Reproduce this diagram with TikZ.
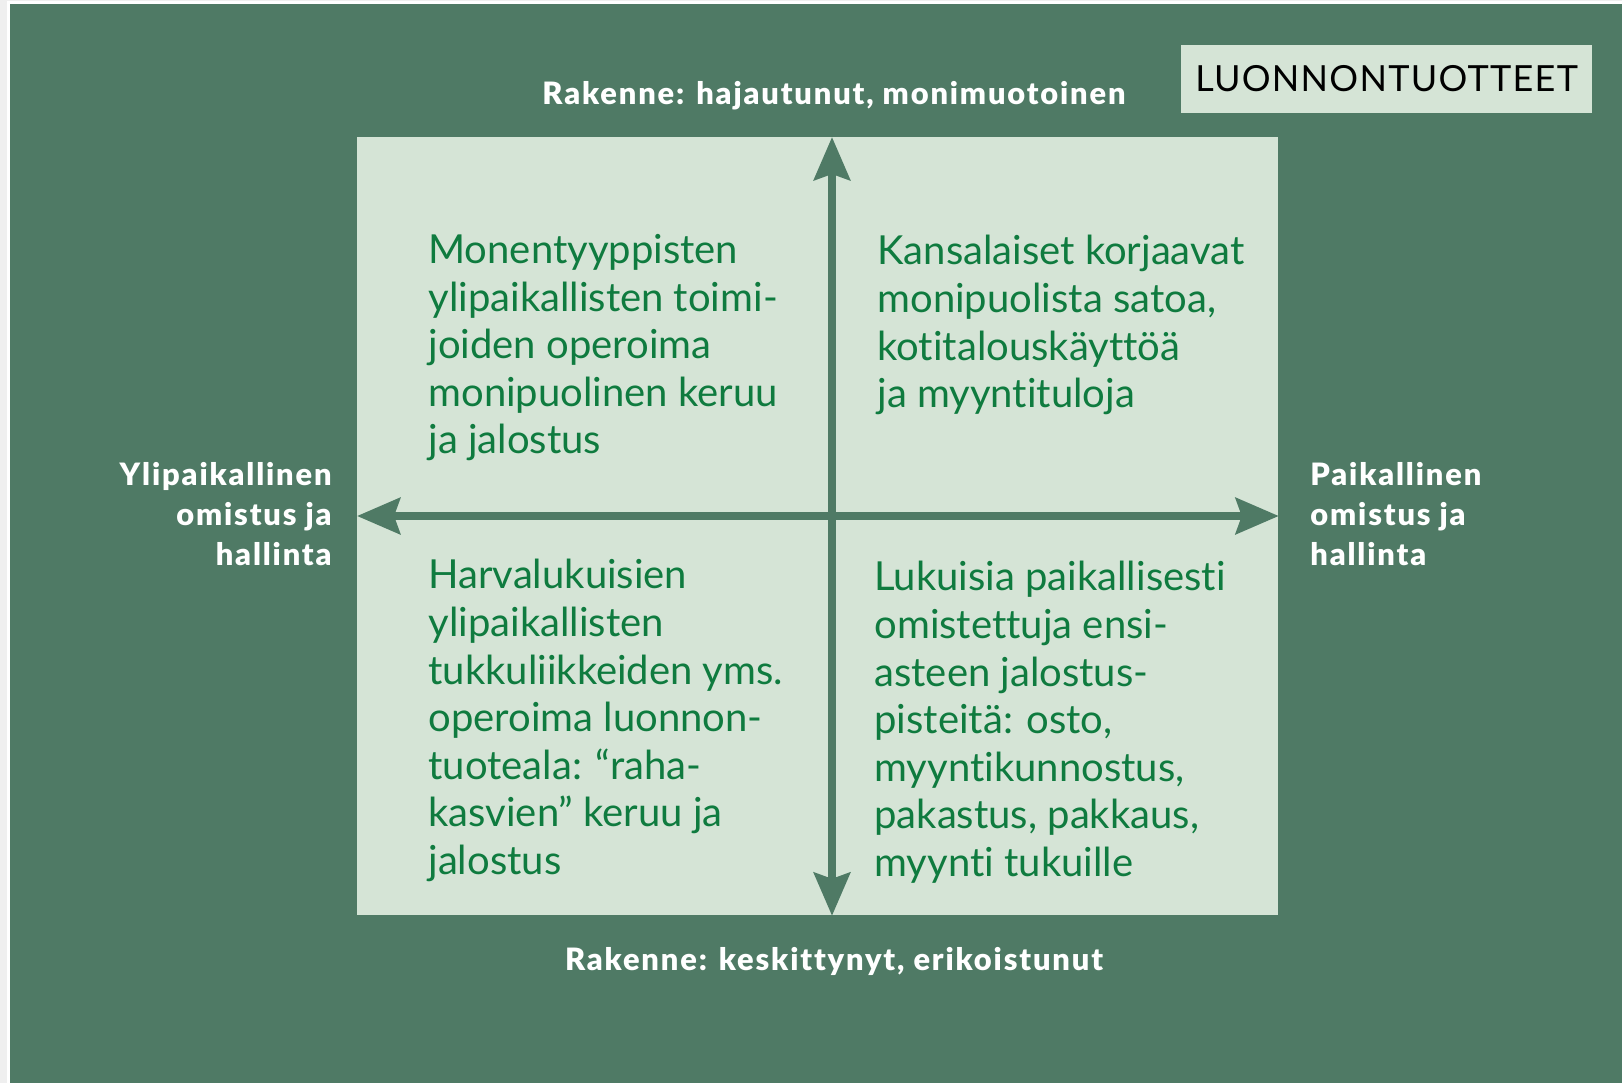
\documentclass[tikz,border=0pt]{standalone}
\usepackage{fontspec}
\setmainfont{Lato}[Ligatures=NoCommon,BoldFont={Lato Black}]
\usepackage{xcolor}
\usepackage{tikz}
\usetikzlibrary{positioning,arrows.meta}

\definecolor{bggreen}{HTML}{4F7A65}
\definecolor{palegreen}{HTML}{D5E4D6}
\definecolor{inkgreen}{HTML}{0F7B3F}
\definecolor{edgegrey}{HTML}{EFEFEF}

\begin{document}
\begin{tikzpicture}[x=0.5pt,y=-0.5pt,>={Stealth[length=21.5pt,width=18pt,inset=3pt]},
  quad/.style={anchor=north west,inner sep=0pt,align=left,text=inkgreen,font=\fontsize{20}{23.8}\selectfont},
  axislabel/.style={inner sep=0pt,text=white,font=\bfseries\fontsize{15.4}{20}\selectfont\addfontfeatures{LetterSpace=6}},
  axis/.style={<->,line width=4pt,draw=bggreen}]

    % Background
    \useasboundingbox (0,0) rectangle (1622,1083);
    \fill[edgegrey] (0,0) rectangle (1622,1083);
    \fill[white] (7,1) rectangle (1622,1083);
    \fill[bggreen] (10,4) rectangle (1622,1083);

    % The plane
    \node [fill=palegreen,minimum width=460.5pt,minimum height=389pt,inner sep=0pt,anchor=north west] at (357,137) (plane) {};
    \coordinate (o) at (832,516);

    % Axes
    \draw[axis] (o -| plane.west) -- (o -| plane.east);
    \draw[axis] (o |- plane.north) -- (o |- plane.south);

    % Axis labels
    \node [axislabel,anchor=base] at (834,104) (top) {Rakenne: hajautunut, monimuotoinen};
    \node [axislabel,anchor=base] at (834,970) (bottom) {Rakenne: keskittynyt, erikoistunut};
    \node [axislabel,anchor=north east,align=right] at (332,462) (left) {Ylipaikallinen\\omistus ja\\hallinta};
    \node [axislabel,anchor=north west,align=left] at (1310,462) (right) {Paikallinen\\omistus ja\\hallinta};

    % Title
    \node [fill=palegreen,inner sep=0pt,minimum width=205.5pt,minimum height=34pt,font=\fontsize{18}{20}\selectfont\addfontfeatures{LetterSpace=3.5}] at (1386.5,79) (title) {LUONNONTUOTTEET};

    % Quadrants
    \node [quad] at (428,234) (nw) {Monentyyppisten\\ylipaikallisten toimi-\\joiden operoima\\monipuolinen keruu\\ja jalostus};
    \node [quad] at (877,235) (ne) {Kansalaiset korjaavat\\monipuolista satoa,\\kotitalouskäyttöä\\ja myyntituloja};
    \node [quad] at (428,559) (sw) {Harvalukuisien\\ylipaikallisten\\tukkuliikkeiden yms.\\operoima luonnon-\\tuoteala: “raha-\\kasvien” keruu ja\\jalostus};
    \node [quad] at (874,561) (se) {Lukuisia paikallisesti\\omistettuja ensi-\\asteen jalostus-\\pisteitä: osto,\\myyntikunnostus,\\pakastus, pakkaus,\\myynti tukuille};

\end{tikzpicture}
\end{document}
